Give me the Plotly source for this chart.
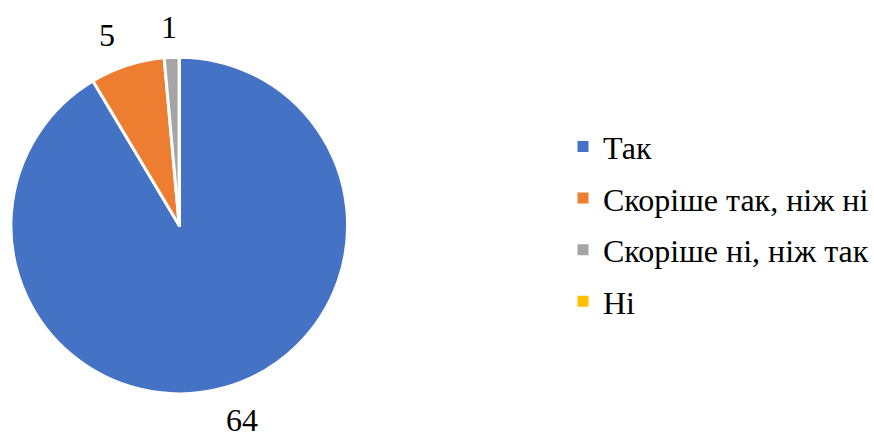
import math
import plotly.graph_objects as go

categories = ["Так", "Скоріше так, ніж ні", "Скоріше ні, ніж так", "Ні"]
values = [64, 5, 1, 0]
colors = ["#4472C4", "#ED7D31", "#A5A5A5", "#FFC000"]

FONT = "Liberation Serif, Times New Roman, serif"
W, H = 874, 432
DOM_X = [11 / W, 350 / W]
DOM_Y = [37 / H, 376 / H]
LABEL_SIZE = 32
LEGEND_SIZE = 32

fig = go.Figure()
fig.add_trace(go.Pie(
    labels=categories,
    values=values,
    sort=False,
    direction="clockwise",
    rotation=0,
    textinfo="none",
    marker=dict(colors=colors, line=dict(color="#FFFFFF", width=3)),
    domain=dict(x=DOM_X, y=DOM_Y),
    showlegend=False,
    hoverinfo="label+value",
))

# Data labels placed outside each slice at its mid-angle (derived from values)
cx = (DOM_X[0] + DOM_X[1]) / 2 * W
cy = (DOM_Y[0] + DOM_Y[1]) / 2 * H
r = min((DOM_X[1] - DOM_X[0]) * W, (DOM_Y[1] - DOM_Y[0]) * H) / 2
total = sum(values)
cum = 0
for v in values:
    if v > 0:
        mid = (cum + v / 2) / total * 2 * math.pi
        s, c = math.sin(mid), math.cos(mid)
        tw = 0.5 * LABEL_SIZE * len(str(v))
        th = LABEL_SIZE
        d = r + 13 + 0.5 * (abs(s) * tw + abs(c) * th)
        px = cx + d * s + 35 * s
        py = cy + d * c  # paper y (upwards)
        fig.add_annotation(
            x=px / W, y=py / H, xref="paper", yref="paper",
            text=str(v), showarrow=False,
            xanchor="center", yanchor="middle",
            font=dict(family=FONT, size=LABEL_SIZE, color="#000000"),
        )
    cum += v

for cat, col in zip(categories, colors):
    fig.add_trace(go.Scatter(
        x=[None], y=[None], mode="markers", name=cat,
        marker=dict(symbol="square", size=11, color=col),
        legendgroup=cat, showlegend=True,
    ))

fig.update_layout(
    width=W, height=H,
    margin=dict(l=0, r=0, t=0, b=0),
    font=dict(family=FONT, size=LEGEND_SIZE, color="#000000"),
    paper_bgcolor="#FFFFFF", plot_bgcolor="#FFFFFF",
    xaxis=dict(visible=False), yaxis=dict(visible=False),
    showlegend=True,
    legend=dict(
        x=567 / W, y=0.481, xanchor="left", yanchor="middle",
        font=dict(family=FONT, size=LEGEND_SIZE, color="#000000"),
        tracegroupgap=7, bgcolor="rgba(0,0,0,0)",
    ),
)

fig.write_html("out.html", config={"displayModeBar": False},
               post_script="document.body.style.margin='0';")
